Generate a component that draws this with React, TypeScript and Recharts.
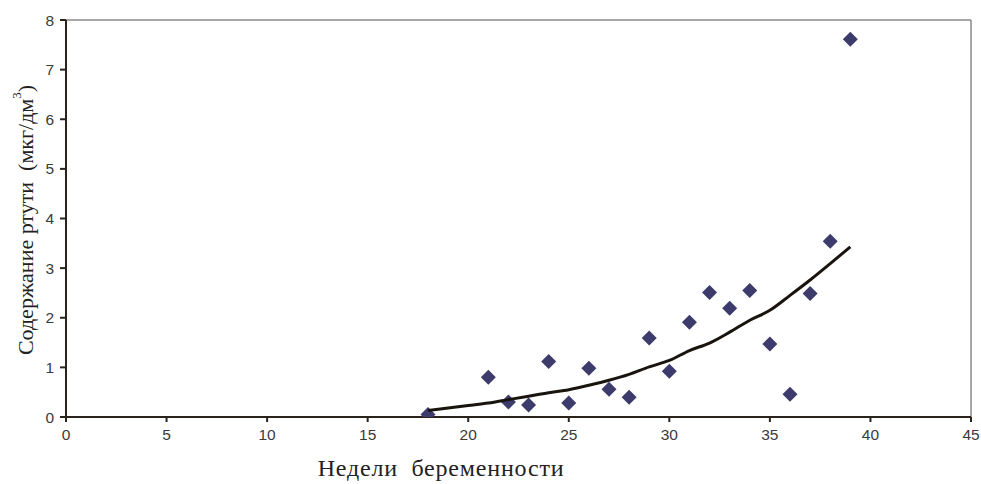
import { ReferenceLine, Scatter, ScatterChart, XAxis, YAxis, Label } from "recharts";

const weeks = [18, 21, 22, 23, 24, 25, 26, 27, 28, 29, 30, 31, 32, 33, 34, 35, 36, 37, 38, 39];
const mercury = [0.05, 0.8, 0.3, 0.24, 1.12, 0.28, 0.98, 0.56, 0.4, 1.59, 0.92, 1.91, 2.51, 2.19, 2.55, 1.47, 0.46, 2.49, 3.54, 7.61];

const trendWeeks = [18, 19, 20, 21, 22, 23, 24, 25, 26, 27, 28, 29, 30, 31, 32, 33, 34, 35, 36, 37, 38, 39];
const trendValues = [0.13, 0.18, 0.23, 0.28, 0.35, 0.42, 0.49, 0.55, 0.64, 0.74, 0.86, 1.01, 1.14, 1.34, 1.49, 1.71, 1.95, 2.15, 2.45, 2.76, 3.09, 3.43];

const xTicks = [0, 5, 10, 15, 20, 25, 30, 35, 40, 45];
const yTicks = [0, 1, 2, 3, 4, 5, 6, 7, 8];

const points = weeks.map((w, i) => ({ week: w, value: mercury[i] }));
const trend = trendWeeks.map((w, i) => ({ week: w, value: trendValues[i] }));

const axisColor = "#2a231c";
const tickStyle = { fontSize: 15.5, fill: "#3a3a3a", fontFamily: "'Liberation Sans', Arial, sans-serif" };
const serif = "'Liberation Serif', 'Times New Roman', serif";

function Diamond(props: any) {
  const { cx, cy } = props;
  const r = 7.5;
  return <polygon points={`${cx},${cy - r} ${cx + r},${cy} ${cx},${cy + r} ${cx - r},${cy}`} fill="#3d3b6b" />;
}

export default function App() {
  return (
    <div style={{ position: "absolute", left: 0, top: 0, width: 981, height: 484, background: "#fff" }}>
      <ScatterChart width={981} height={484} margin={{ top: 20, right: 10, bottom: 37, left: 36 }}>
        <XAxis
          type="number"
          dataKey="week"
          domain={[0, 45]}
          ticks={xTicks}
          tick={tickStyle}
          tickSize={5}
          tickMargin={7}
          stroke={axisColor}
          strokeWidth={2}
          height={30}
          allowDataOverflow
        >
          <Label
            content={() => (
              <text x={441} y={468} textAnchor="middle" dominantBaseline="central" fontFamily={serif} fontSize={24} letterSpacing={0.8} fill="#222" style={{ whiteSpace: "pre" }}>
                Недели  беременности
              </text>
            )}
          />
        </XAxis>
        <YAxis
          type="number"
          dataKey="value"
          domain={[0, 8]}
          ticks={yTicks}
          tick={tickStyle}
          tickSize={6}
          tickMargin={6}
          stroke={axisColor}
          strokeWidth={2}
          width={30}
          allowDataOverflow
        >
          <Label
            content={() => (
              <text x={25} y={220} transform="rotate(-90 25 220)" textAnchor="middle" dominantBaseline="central" fontFamily={serif} fontSize={22} fill="#222" style={{ whiteSpace: "pre" }}>
                Содержание ртути  (мкг/дм<tspan dy={-9} fontSize={13}>3</tspan><tspan dy={9}>)</tspan>
              </text>
            )}
          />
        </YAxis>
        <ReferenceLine y={8} stroke="#8a8a8a" strokeWidth={1.5} />
        <ReferenceLine x={45} stroke="#8a8a8a" strokeWidth={1.5} />
        <Scatter data={points} shape={<Diamond />} isAnimationActive={false} />
        <Scatter
          data={trend}
          line={{ stroke: "#1a140e", strokeWidth: 3 }}
          lineJointType="monotoneX"
          shape={() => null}
          isAnimationActive={false}
        />
      </ScatterChart>
    </div>
  );
}
